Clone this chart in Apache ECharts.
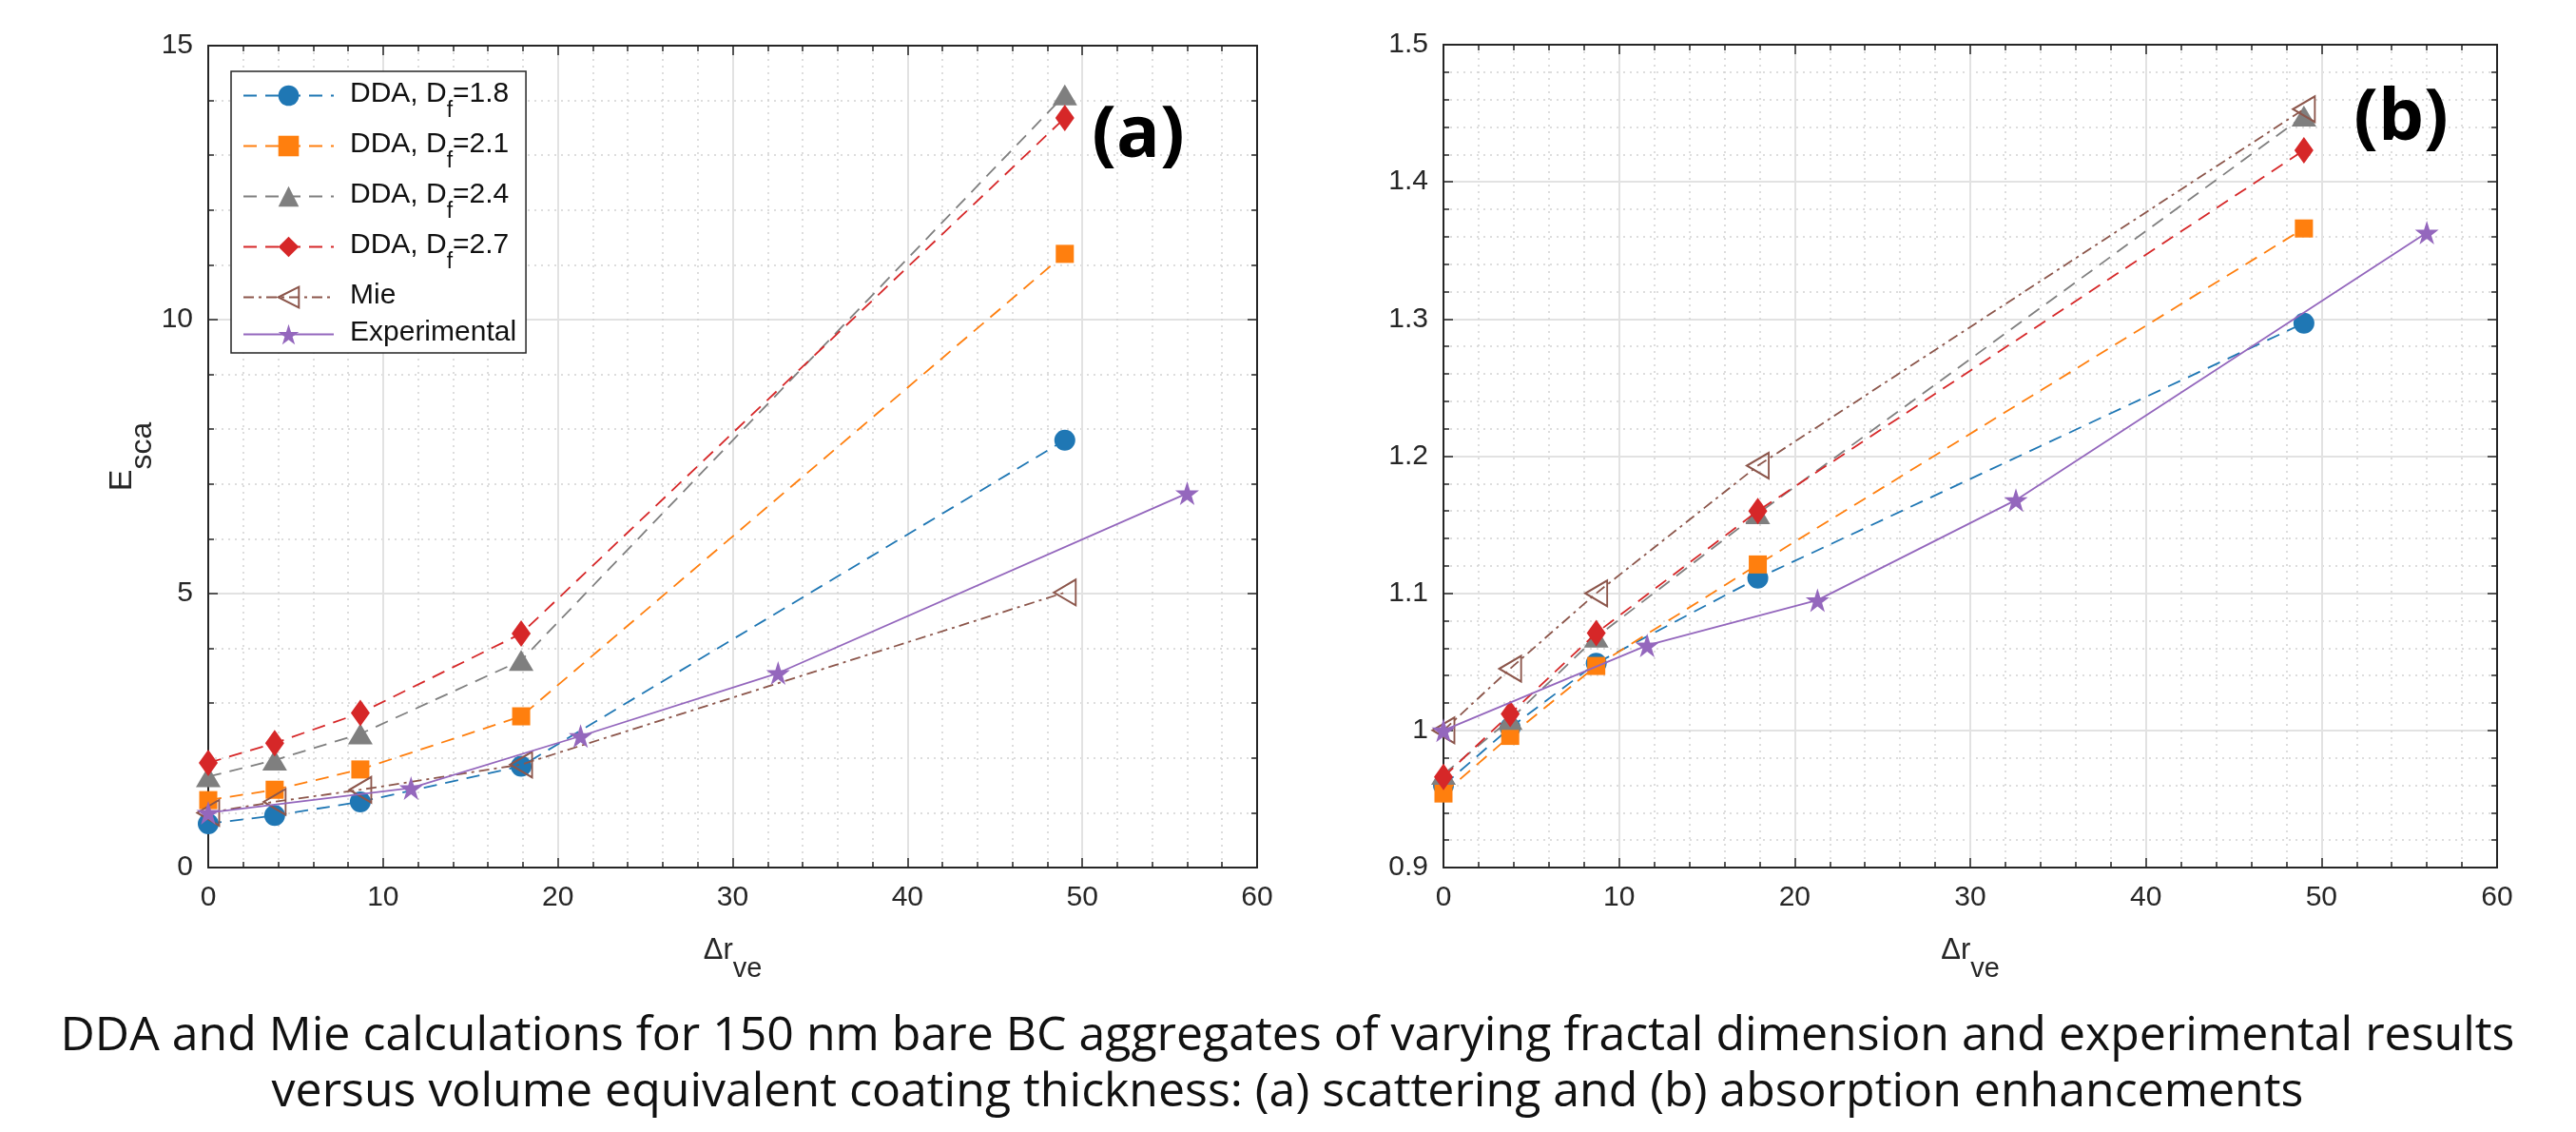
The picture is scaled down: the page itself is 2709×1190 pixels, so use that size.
<!DOCTYPE html>
<html>
<head>
<meta charset="utf-8">
<script src="https://cdn.jsdelivr.net/npm/echarts/dist/echarts.min.js"></script>
<style>
html,body{margin:0;padding:0;background:#fff;}
#chart{width:2709px;height:1190px;}
</style>
</head>
<body>
<div id="chart"></div>
<script>
// ---------------- data ----------------
const seriesNames = ['DDA, D_f=1.8', 'DDA, D_f=2.1', 'DDA, D_f=2.4', 'DDA, D_f=2.7', 'Mie', 'Experimental'];
const xDDA = [0, 3.8, 8.7, 17.9, 49];
const xExp = [0, 11.6, 21.3, 32.6, 56];
const xTicks = [0, 10, 20, 30, 40, 50, 60];
const yTicksA = [0, 5, 10, 15];
const yTicksB = [0.9, 1.0, 1.1, 1.2, 1.3, 1.4, 1.5];

// (a) scattering enhancement
const scaD18 = [0.80, 0.95, 1.20, 1.85, 7.80];
const scaD21 = [1.23, 1.42, 1.79, 2.76, 11.20];
const scaD24 = [1.66, 1.96, 2.44, 3.78, 14.10];
const scaD27 = [1.91, 2.27, 2.82, 4.27, 13.68];
const scaMie = [1.00, 1.20, 1.42, 1.88, 5.02];
const scaExp = [1.00, 1.45, 2.40, 3.55, 6.83];

// (b) absorption enhancement
const absD18 = [0.960, 1.002, 1.049, 1.111, 1.297];
const absD21 = [0.954, 0.996, 1.047, 1.121, 1.366];
const absD24 = [0.968, 1.008, 1.068, 1.158, 1.448];
const absD27 = [0.966, 1.012, 1.071, 1.160, 1.423];
const absMie = [1.000, 1.045, 1.100, 1.193, 1.453];
const absExp = [1.000, 1.062, 1.095, 1.168, 1.363];

const captionLines = [
  'DDA and Mie calculations for 150 nm bare BC aggregates of varying fractal dimension and experimental results',
  'versus volume equivalent coating thickness: (a) scattering and (b) absorption enhancements'
];

// ---------------- styles ----------------
const FONT = 'Liberation Sans';
const INK = '#262626';
const STAR = 'path://M50,0 L61.2,34.5 L97.6,34.5 L68.2,55.9 L79.4,90.5 L50,69.1 L20.6,90.5 L31.8,55.9 L2.4,34.5 L38.8,34.5 Z';
const LTRI = 'path://M0,50 L100,0 L100,100 Z';
const styles = [
  {symbol: 'circle', size: 22, color: '#1f77b4', dash: [14, 9]},
  {symbol: 'rect', size: 19, color: '#ff7f0e', dash: [14, 9]},
  {symbol: 'triangle', size: [26, 22], color: '#7f7f7f', dash: [14, 9]},
  {symbol: 'diamond', size: [20, 28], color: '#d62728', dash: [14, 9]},
  {symbol: LTRI, size: [23, 27], color: '#8c564b', dash: [11, 5, 3, 5], hollow: true},
  {symbol: STAR, size: 25, color: '#9467bd', dash: 'solid'}
];

function mkSeries(idx, xs, ys, axisIdx) {
  const s = styles[idx];
  return {
    type: 'line',
    name: seriesNames[idx],
    xAxisIndex: axisIdx,
    yAxisIndex: axisIdx,
    data: xs.map((x, i) => [x, ys[i]]),
    symbol: s.symbol,
    symbolSize: s.size,
    showAllSymbol: true,
    z: 2 + idx,
    lineStyle: {color: s.color, width: 1.8, type: s.dash},
    itemStyle: s.hollow
      ? {color: 'rgba(255,255,255,0)', borderColor: s.color, borderWidth: 2}
      : {color: s.color, borderWidth: 0},
    emphasis: {disabled: true},
    animation: false
  };
}

function xAxisPair(grid) {
  const base = {
    gridIndex: grid, type: 'value', min: 0, max: 60, interval: 10,
    axisLine: {show: true, onZero: false, lineStyle: {color: INK, width: 2}},
    axisTick: {show: true, inside: true, length: 10, lineStyle: {color: INK, width: 1.5}},
    minorTick: {show: true, splitNumber: 5, length: 6, lineStyle: {color: INK, width: 1.5}}
  };
  return [
    Object.assign({}, base, {
      position: 'bottom',
      axisLabel: {fontSize: 30, color: INK, fontFamily: FONT, margin: 17,
        formatter: v => xTicks.includes(v) ? String(v) : ''},
      splitLine: {show: true, lineStyle: {color: '#e2e2e2', width: 2}},
      minorSplitLine: {show: true, lineStyle: {color: '#d2d2d2', width: 1.5, type: [2, 5]}},
      name: '{m|Δr}{s|ve}',
      nameLocation: 'middle',
      nameGap: 72,
      nameTextStyle: {
        rich: {
          m: {fontSize: 31, lineHeight: 34, verticalAlign: 'top', fontFamily: FONT, color: INK},
          s: {fontSize: 29, lineHeight: 32, padding: [20, 0, 0, 0], verticalAlign: 'top', fontFamily: FONT, color: INK}
        }
      }
    }),
    Object.assign({}, base, {
      position: 'top',
      axisLabel: {show: false},
      splitLine: {show: false},
      minorSplitLine: {show: false}
    })
  ];
}

function yAxisPair(grid, min, max, interval, ticks, nameObj) {
  const base = {
    gridIndex: grid, type: 'value', min: min, max: max, interval: interval,
    axisLine: {show: true, onZero: false, lineStyle: {color: INK, width: 2}},
    axisTick: {show: true, inside: true, length: 10, lineStyle: {color: INK, width: 1.5}},
    minorTick: {show: true, splitNumber: 5, length: 6, lineStyle: {color: INK, width: 1.5}}
  };
  return [
    Object.assign({}, base, {
      position: 'left',
      axisLabel: {fontSize: 30, color: INK, fontFamily: FONT, margin: 16,
        formatter: v => {
          const t = ticks.find(k => Math.abs(k - v) < 1e-6);
          return t === undefined ? '' : String(Math.round(t * 10) / 10);
        }},
      splitLine: {show: true, lineStyle: {color: '#e2e2e2', width: 2}},
      minorSplitLine: {show: true, lineStyle: {color: '#d2d2d2', width: 1.5, type: [2, 5]}}
    }, nameObj || {}),
    Object.assign({}, base, {
      position: 'right',
      axisLabel: {show: false},
      splitLine: {show: false},
      minorSplitLine: {show: false}
    })
  ];
}

const yNameA = {
  name: '{m|E}{s|sca}',
  nameLocation: 'middle',
  nameRotate: 90,
  nameGap: 68,
  nameTextStyle: {
    rich: {
      m: {fontSize: 34, lineHeight: 38, verticalAlign: 'top', fontFamily: FONT, color: INK},
      s: {fontSize: 32, lineHeight: 36, padding: [22, 0, 0, 0], verticalAlign: 'top', fontFamily: FONT, color: INK}
    }
  }
};

const xA = xAxisPair(0);
const xB = xAxisPair(1);
const yA = yAxisPair(0, 0, 15, 5, yTicksA, yNameA);
const yB = yAxisPair(1, 0.9, 1.5, 0.1, yTicksB, null);

const sca = [scaD18, scaD21, scaD24, scaD27, scaMie, scaExp];
const abs = [absD18, absD21, absD24, absD27, absMie, absExp];
const series = [];
sca.forEach((ys, i) => series.push(mkSeries(i, i === 5 ? xExp : xDDA, ys, 0)));
abs.forEach((ys, i) => series.push(mkSeries(i, i === 5 ? xExp : xDDA, ys, 2)));

const chart = echarts.init(document.getElementById('chart'), null, {renderer: 'canvas'});
chart.setOption({
  backgroundColor: '#ffffff',
  animation: false,
  grid: [
    {left: 219, top: 48, width: 1103, height: 864},
    {left: 1518, top: 47, width: 1108, height: 865}
  ],
  xAxis: [xA[0], xA[1], xB[0], xB[1]],
  yAxis: [yA[0], yA[1], yB[0], yB[1]],
  legend: {
    data: seriesNames,
    orient: 'vertical',
    left: 243,
    top: 75,
    backgroundColor: '#ffffff',
    borderColor: INK,
    borderWidth: 1.5,
    borderRadius: 0,
    padding: [9, 10, 6, 12],
    itemWidth: 95,
    itemHeight: 27,
    itemGap: 9,
    selectedMode: false,
    textStyle: {
      color: '#000', fontFamily: FONT, fontSize: 30, padding: [0, 0, 0, 12],
      rich: {
        m: {fontSize: 30, lineHeight: 33, verticalAlign: 'top', fontFamily: FONT, color: '#111'},
        s: {fontSize: 23, lineHeight: 24, padding: [21, 0, 0, 0], verticalAlign: 'top', fontFamily: FONT, color: '#111'}
      }
    },
    formatter: function (name) {
      const k = name.indexOf('_f');
      if (k < 0) return '{m|' + name + '}';
      return '{m|' + name.slice(0, k) + '}{s|f}{m|' + name.slice(k + 2) + '}';
    }
  },
  graphic: [
    {type: 'text', x: 1197, y: 143, z: 100,
      style: {text: '(a)', font: 'bold 76px "Open Sans"', fill: '#000', textAlign: 'center', textVerticalAlign: 'middle'}},
    {type: 'text', x: 2525, y: 125, z: 100,
      style: {text: '(b)', font: 'bold 76px "Open Sans"', fill: '#000', textAlign: 'center', textVerticalAlign: 'middle'}},
    {type: 'text', x: 1354, y: 1090, z: 100,
      style: {text: captionLines[0], font: '50px "Open Sans"', fill: '#111', textAlign: 'center', textVerticalAlign: 'middle'}},
    {type: 'text', x: 1354, y: 1149, z: 100,
      style: {text: captionLines[1], font: '50px "Open Sans"', fill: '#111', textAlign: 'center', textVerticalAlign: 'middle'}}
  ],
  series: series
});
</script>
</body>
</html>
